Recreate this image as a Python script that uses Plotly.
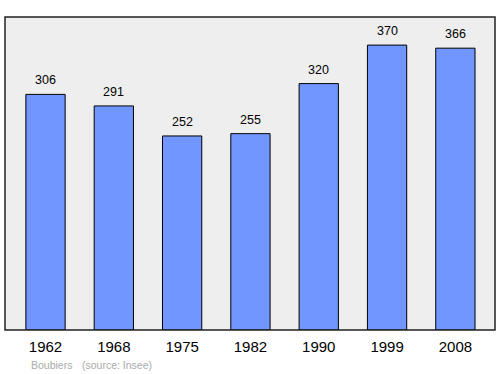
import plotly.graph_objects as go

years = ["1962", "1968", "1975", "1982", "1990", "1999", "2008"]
population = [306, 291, 252, 255, 320, 370, 366]

W, H = 500, 374
ml, mr, mt, mb = 5, 5, 17, 44

fig = go.Figure()
fig.add_trace(go.Bar(
    x=list(range(len(years))), y=population,
    marker=dict(color="#7197ff", line=dict(color="#000000", width=1)),
    width=0.575, hoverinfo="skip",
))

annotations = []
for i, v in enumerate(population):
    annotations.append(dict(x=i, y=v, xref="x", yref="y", text=str(v), showarrow=False,
                            yanchor="bottom", yshift=5, font=dict(size=12.5, color="#000")))

foot_y = -(365 - (H - mb)) / (H - mt - mb)
annotations.append(dict(x=(29 - ml) / (W - ml - mr), y=foot_y, xref="paper", yref="paper",
                        text="Boubiers", showarrow=False, xanchor="left", yanchor="middle",
                        font=dict(size=10.5, color="#aaaaaa")))
annotations.append(dict(x=(80 - ml) / (W - ml - mr), y=foot_y, xref="paper", yref="paper",
                        text="(source: Insee)", showarrow=False, xanchor="left", yanchor="middle",
                        font=dict(size=10.5, color="#aaaaaa")))

fig.update_layout(
    width=W, height=H,
    margin=dict(l=ml, r=mr, t=mt, b=mb, pad=0),
    paper_bgcolor="white", plot_bgcolor="#eeeeee",
    font=dict(family="Liberation Sans, Arial, sans-serif", color="#000"),
    showlegend=False,
    xaxis=dict(range=[-0.593, 6.58], tickvals=list(range(len(years))), ticktext=years,
               showgrid=False, zeroline=False, ticks="", tickfont=dict(size=15),
               showline=False, ticklabelstandoff=6),
    yaxis=dict(range=[0, 406.5], showgrid=False, zeroline=False, showticklabels=False, ticks=""),
    annotations=annotations,
    shapes=[dict(type="rect", xref="paper", yref="paper", x0=0, y0=0, x1=1, y1=1,
                 line=dict(color="#222222", width=1.5))],
)
fig.write_html("out.html")
